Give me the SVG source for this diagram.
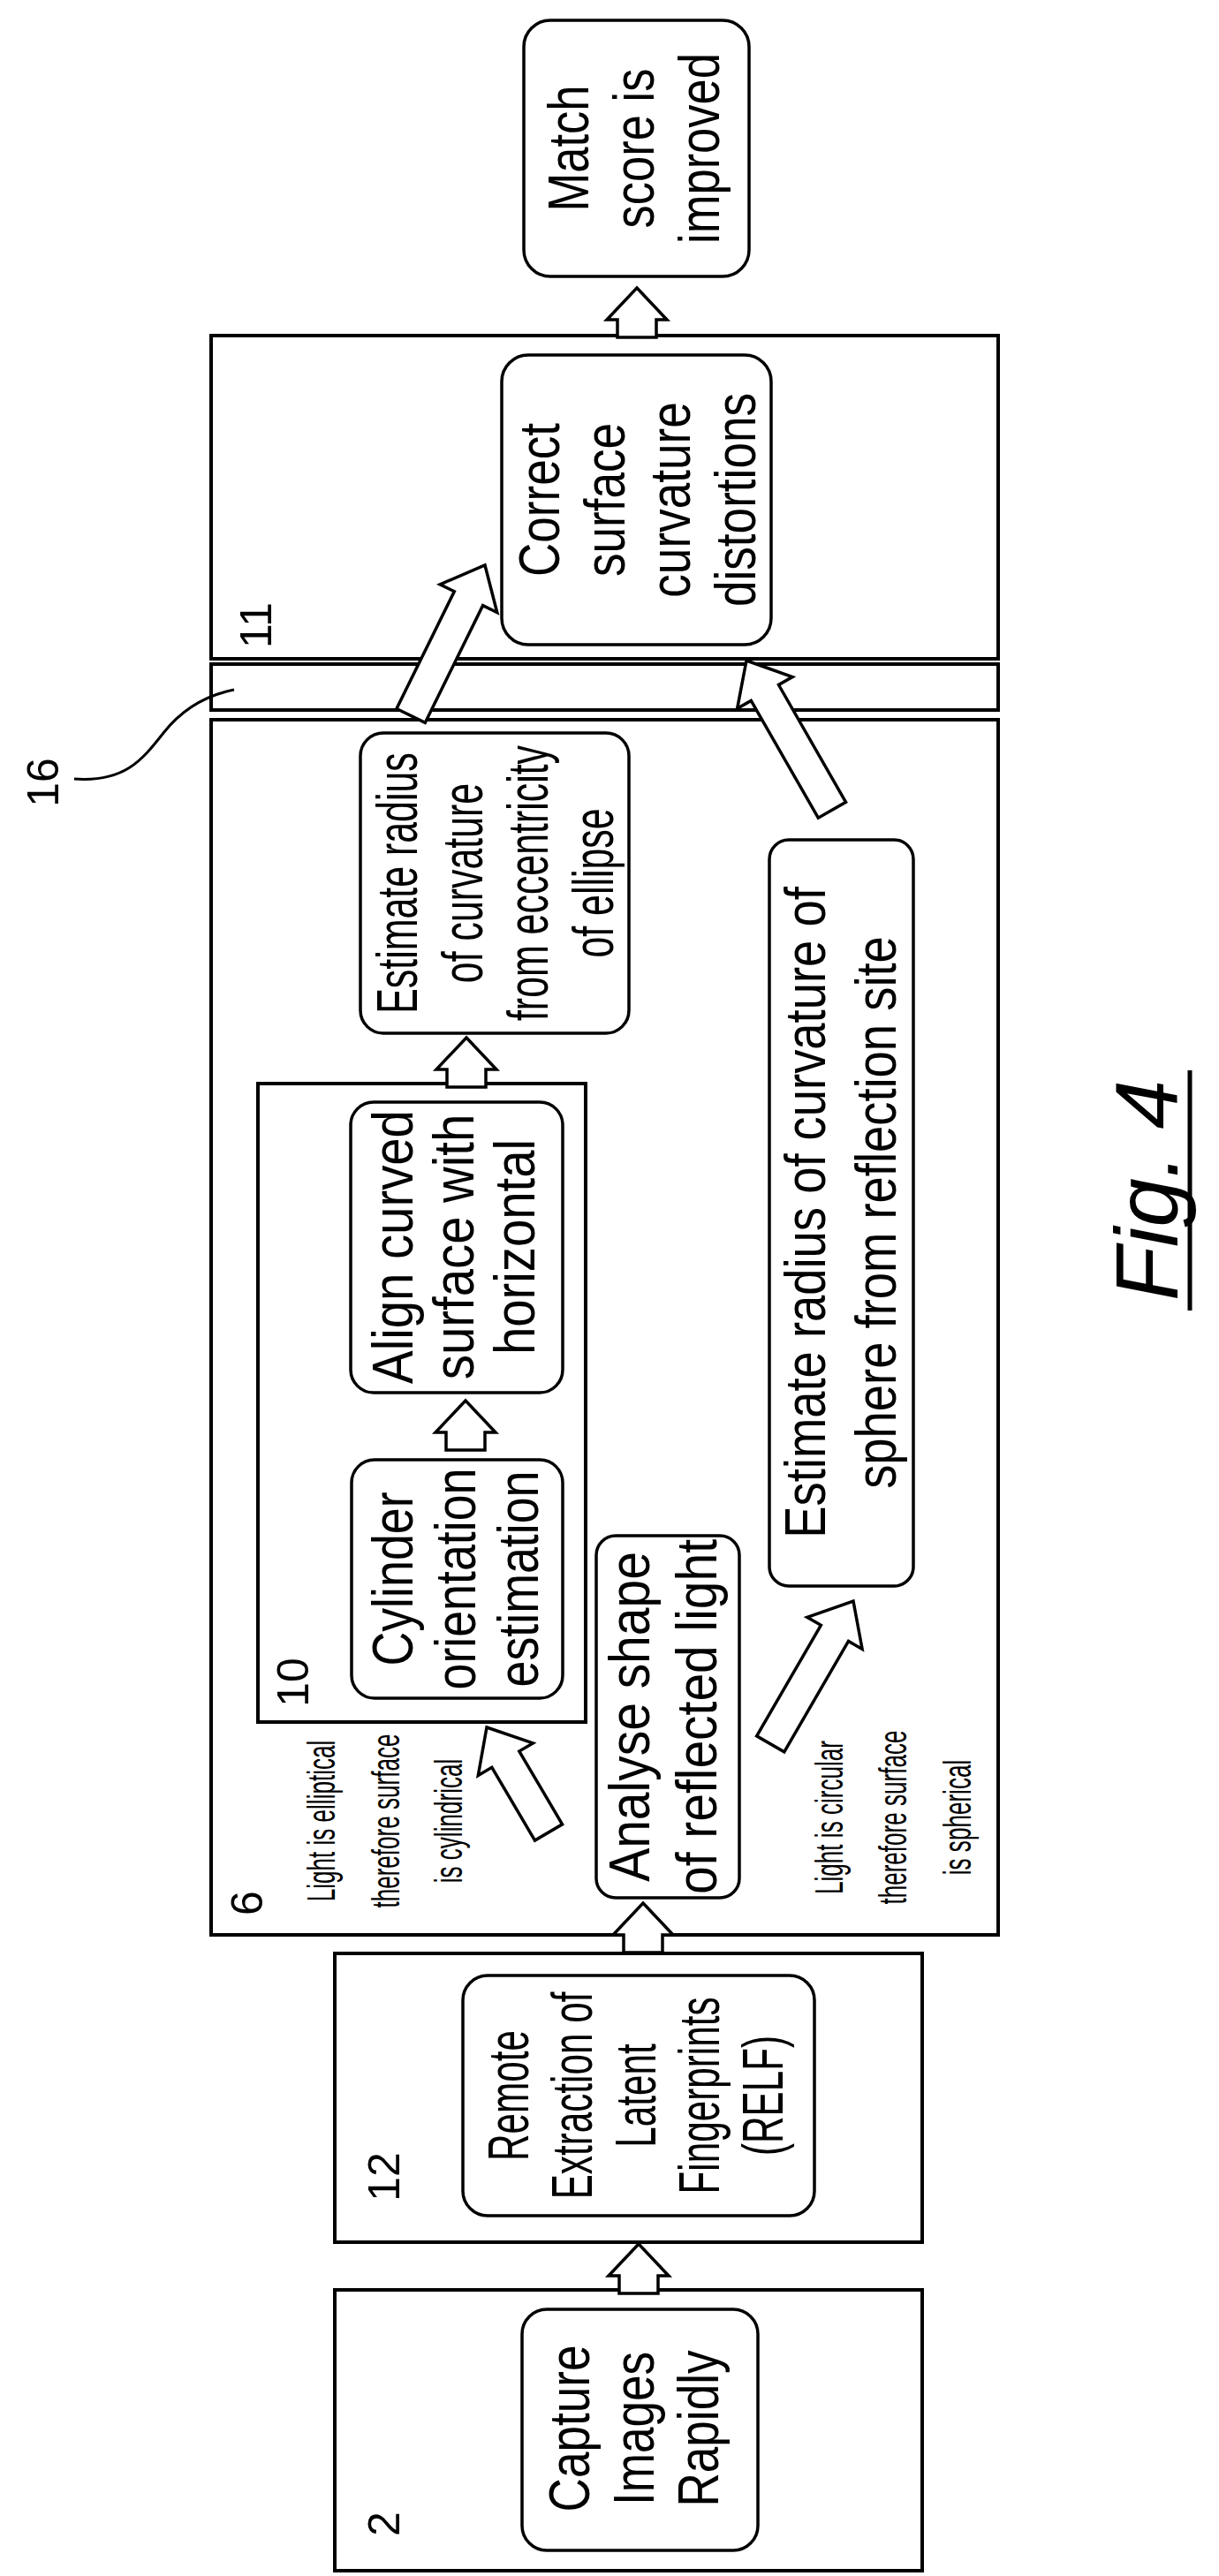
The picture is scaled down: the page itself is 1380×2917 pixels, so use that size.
<svg xmlns="http://www.w3.org/2000/svg" width="1380" height="2917" viewBox="0 0 1380 2917">
<style>
.frame{fill:none;stroke:#000;stroke-width:4}
.node{fill:#fff;stroke:#000;stroke-width:3.5}
.arr{fill:#fff;stroke:#000;stroke-width:3.5;stroke-linejoin:miter}
text{font-family:"Liberation Sans",Arial,sans-serif;fill:#000}
.big{font-size:64px;text-anchor:middle}
.sm{font-size:45px;text-anchor:middle}
.num{font-size:50px;text-anchor:middle}
</style>
<defs>
<path id="va" d="M0,0 L34,36 L22,36 L22,56 L-22,56 L-22,36 L-34,36 Z"/>
</defs>
<rect fill="#fff" width="1380" height="2917"/>

<g id="box2"><rect class="frame" x="379" y="2593" width="665" height="318"/>
<text class="num" transform="translate(452,2858) rotate(-90)">2</text></g>
<g id="capture"><rect class="node" x="591" y="2615" width="267" height="273" rx="28"/>
<text class="big" transform="translate(667,2750) rotate(-90) scale(0.83,1)"><tspan x="0">Capture</tspan><tspan x="0" dy="73">Images</tspan><tspan x="0" dy="73">Rapidly</tspan></text></g>

<g id="box12"><rect class="frame" x="379" y="2212" width="665" height="327"/>
<text class="num" transform="translate(452,2465) rotate(-90)">12</text></g>
<g id="relf"><rect class="node" x="524" y="2237" width="398" height="272" rx="28"/>
<text class="big" transform="translate(598,2373) rotate(-90) scale(0.66,1)"><tspan x="0">Remote</tspan><tspan x="0" dy="72">Extraction of</tspan><tspan x="0" dy="72">Latent</tspan><tspan x="0" dy="72">Fingerprints</tspan><tspan x="0" dy="72">(RELF)</tspan></text></g>

<g id="box6"><rect class="frame" x="239" y="815" width="891" height="1376"/>
<text class="num" transform="translate(297,2155) rotate(-90)">6</text></g>
<g id="strip16"><rect class="frame" x="239" y="752" width="891" height="52"/></g>
<g id="box11"><rect class="frame" x="239" y="380" width="891" height="366"/>
<text class="num" transform="translate(307,708) rotate(-90)">11</text></g>

<g id="box10"><rect class="frame" x="292" y="1227" width="371" height="723"/>
<text class="num" transform="translate(349,1905) rotate(-90)">10</text></g>
<g id="cylinder"><rect class="node" x="398" y="1653" width="239" height="270" rx="26"/>
<text class="big" transform="translate(467,1788) rotate(-90) scale(0.84,1)"><tspan x="0">Cylinder</tspan><tspan x="0" dy="71">orientation</tspan><tspan x="0" dy="71">estimation</tspan></text></g>
<g id="align"><rect class="node" x="397" y="1248" width="240" height="329" rx="26"/>
<text class="big" transform="translate(467,1412) rotate(-90) scale(0.88,1)"><tspan x="0">Align curved</tspan><tspan x="0" dy="69">surface with</tspan><tspan x="0" dy="69">horizontal</tspan></text></g>
<g id="ellipse"><rect class="node" x="408" y="830" width="304" height="340" rx="26"/>
<text class="big" transform="translate(472,1000) rotate(-90) scale(0.67,1)"><tspan x="0">Estimate radius</tspan><tspan x="0" dy="74">of curvature</tspan><tspan x="0" dy="74">from eccentricity</tspan><tspan x="0" dy="74">of ellipse</tspan></text></g>
<g id="analyse"><rect class="node" x="675" y="1739" width="162" height="410" rx="22"/>
<text class="big" transform="translate(735,1944) rotate(-90) scale(0.89,1)"><tspan x="0">Analyse shape</tspan><tspan x="0" dy="76">of reflected light</tspan></text></g>
<g id="sphere"><rect class="node" x="871" y="951" width="163" height="845" rx="22"/>
<text class="big" transform="translate(934,1373) rotate(-90) scale(0.85,1)"><tspan x="0">Estimate radius of curvature of</tspan><tspan x="0" dy="80">sphere from reflection site</tspan></text></g>
<g id="correct"><rect class="node" x="568" y="402" width="305" height="328" rx="30"/>
<text class="big" transform="translate(633,566) rotate(-90) scale(0.83,1)"><tspan x="0">Correct</tspan><tspan x="0" dy="74">surface</tspan><tspan x="0" dy="74">curvature</tspan><tspan x="0" dy="74">distortions</tspan></text></g>
<g id="match"><rect class="node" x="593" y="23" width="255" height="290" rx="30"/>
<text class="big" transform="translate(666,168) rotate(-90) scale(0.82,1)"><tspan x="0">Match</tspan><tspan x="0" dy="74">score is</tspan><tspan x="0" dy="74">improved</tspan></text></g>

<g id="note-cyl"><text class="sm" transform="translate(379,2062) rotate(-90) scale(0.58,1)"><tspan x="0">Light is elliptical</tspan><tspan x="0" dy="73">therefore surface</tspan><tspan x="0" dy="71">is cylindrical</tspan></text></g>
<g id="note-sph"><text class="sm" transform="translate(954,2058) rotate(-90) scale(0.58,1)"><tspan x="0">Light is circular</tspan><tspan x="0" dy="72">therefore surface</tspan><tspan x="0" dy="73">is spherical</tspan></text></g>

<g id="label16"><text class="num" transform="translate(66,886) rotate(-90)">16</text>
<path d="M84,882 C140,886 160,862 185,830 C210,798 240,786 265,781" fill="none" stroke="#000" stroke-width="3"/></g>

<g id="connectors">
<use href="#va" class="arr" transform="translate(723,2541)"/>
<use href="#va" class="arr" transform="translate(728,2155)"/>
<use href="#va" class="arr" transform="translate(527,1586)"/>
<use href="#va" class="arr" transform="translate(528,1175)"/>
<use href="#va" class="arr" transform="translate(721,326)"/>
<path class="arr" transform="translate(549,640) rotate(26.2)" d="M0,0 L36,42 L18,42 L18,190 L-18,190 L-18,42 L-36,42 Z"/>
<path class="arr" transform="translate(845,748) rotate(-29.8)" d="M0,0 L36,42 L18,42 L18,195 L-18,195 L-18,42 L-36,42 Z"/>
<path class="arr" transform="translate(551,1956) rotate(-30.5)" d="M0,0 L36,42 L18,42 L18,138 L-18,138 L-18,42 L-36,42 Z"/>
<path class="arr" transform="translate(966,1813) rotate(30.1)" d="M0,0 L36,42 L18,42 L18,187 L-18,187 L-18,42 L-36,42 Z"/>
</g>

<g id="figlabel"><text transform="translate(1333,1348) rotate(-90)" style="font-size:100px;font-style:italic;text-anchor:middle">Fig. 4</text>
<line x1="1347" y1="1212" x2="1347" y2="1484" stroke="#000" stroke-width="5"/></g>
</svg>
